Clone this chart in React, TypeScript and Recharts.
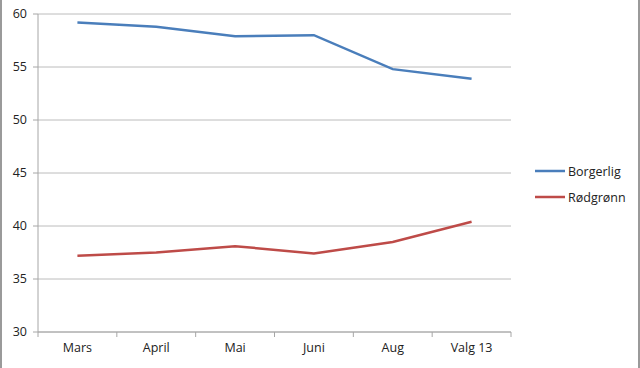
import { LineChart, Line, XAxis, YAxis, CartesianGrid } from "recharts";

const months = ["Mars", "April", "Mai", "Juni", "Aug", "Valg 13"];
const borgerlig = [59.2, 58.8, 57.9, 58.0, 54.8, 53.9];
const rodgronn = [37.2, 37.5, 38.1, 37.4, 38.5, 40.4];
const yTicks = [30, 35, 40, 45, 50, 55, 60];

const data = months.map((m, i) => ({
  month: m,
  Borgerlig: borgerlig[i],
  Rødgrønn: rodgronn[i],
}));

const series = [
  { key: "Borgerlig", color: "#4a7ebb" },
  { key: "Rødgrønn", color: "#be4b48" },
];

const W = 640;
const H = 368;
const LEFT = 38;
const RIGHT = 129;
const band = (W - LEFT - RIGHT) / months.length;
const font = "'Open Sans', 'Liberation Sans', sans-serif";

const XTick = (props: any) => {
  const { x, y, payload, index } = props;
  const half = band / 2;
  return (
    <g>
      <line x1={x - half} x2={x - half} y1={y - 8} y2={y - 3} stroke="#a6a6a6" />
      {index === months.length - 1 && (
        <line x1={x + half} x2={x + half} y1={y - 8} y2={y - 3} stroke="#a6a6a6" />
      )}
      <text x={x} y={y + 12} textAnchor="middle" fontSize={12.5} fill="#222" fontFamily={font}>
        {payload.value}
      </text>
    </g>
  );
};

export default function App() {
  return (
    <div
      style={{
        position: "absolute",
        top: 0,
        left: 0,
        width: W,
        height: H,
        background: "#fff",
        boxSizing: "border-box",
        borderLeft: "2px solid #9a9a9a",
        borderRight: "2px solid #9a9a9a",
        overflow: "hidden",
      }}
    >
      <div style={{ position: "absolute", left: -2, top: 0 }}>
        <LineChart
          width={W}
          height={H}
          data={data}
          margin={{ top: 14, right: RIGHT, left: 0, bottom: 0 }}
        >
          <CartesianGrid stroke="#bcbcbc" vertical={false} />
          <XAxis
            dataKey="month"
            height={36}
            axisLine={{ stroke: "#a6a6a6" }}
            tickLine={false}
            tick={<XTick />}
            interval={0}
            padding={{ left: band / 2, right: band / 2 }}
          />
          <YAxis
            width={LEFT}
            domain={[30, 60]}
            ticks={yTicks}
            axisLine={{ stroke: "#a6a6a6" }}
            tickLine={{ stroke: "#a6a6a6" }}
            tickSize={5}
            tickMargin={6}
            tick={{ fontSize: 12.5, fill: "#222", fontFamily: font }}
            interval={0}
          />
          {series.map((s) => (
            <Line
              key={s.key}
              dataKey={s.key}
              stroke={s.color}
              strokeWidth={2.5}
              dot={false}
              isAnimationActive={false}
            />
          ))}
        </LineChart>
      </div>
      <svg width={110} height={60} style={{ position: "absolute", left: 531, top: 161 }}>
        {series.map((s, i) => (
          <g key={s.key}>
            <line x1={2} x2={32} y1={10 + i * 26} y2={10 + i * 26} stroke={s.color} strokeWidth={2.5} />
            <text x={35} y={14.5 + i * 26} fontSize={12.5} fill="#222" fontFamily={font}>
              {s.key}
            </text>
          </g>
        ))}
      </svg>
    </div>
  );
}
